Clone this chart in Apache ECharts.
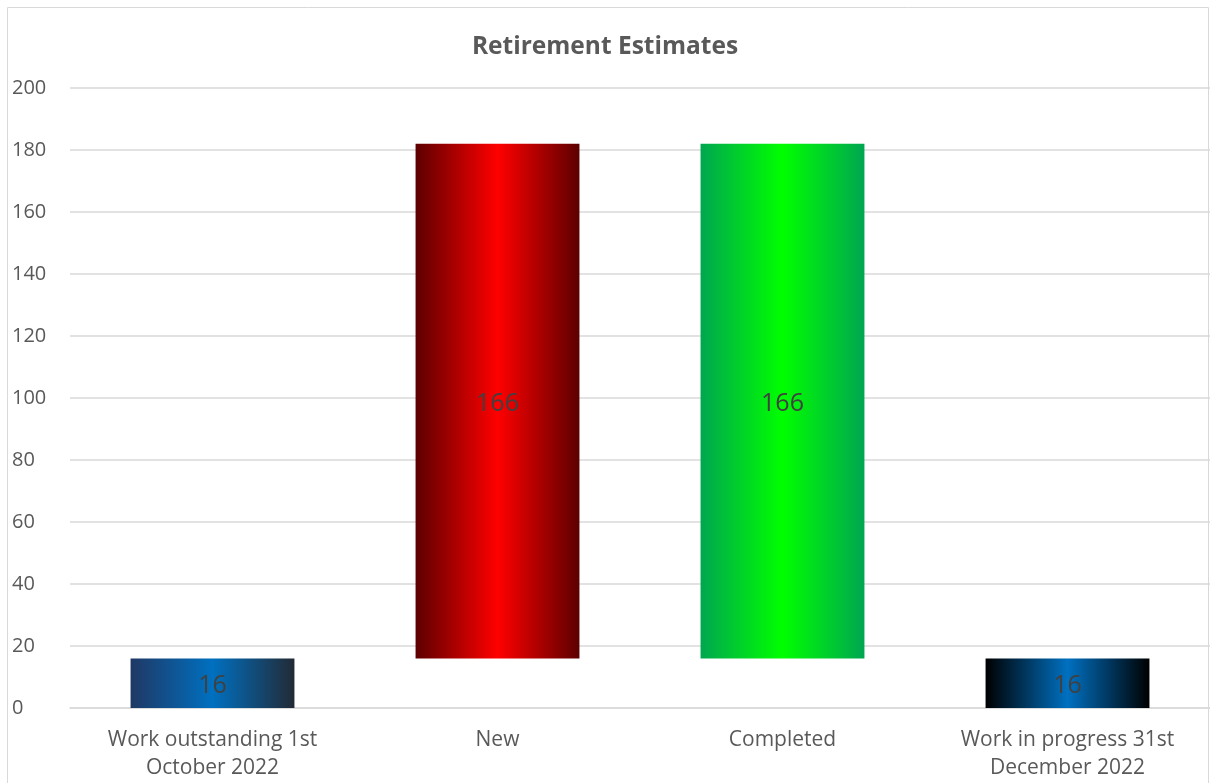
<!DOCTYPE html>
<html><head><meta charset="utf-8">
<script src="https://cdn.jsdelivr.net/npm/echarts@6/dist/echarts.min.js"></script>
<style>html,body{margin:0;padding:0;background:#fff}#c{width:1210px;height:783px}</style>
</head><body><div id="c"></div>
<script>
const categories = ['Work outstanding 1st\nOctober 2022', 'New', 'Completed', 'Work in progress 31st\nDecember 2022'];
const baseValues = [0, 16, 16, 0];
const barValues = [16, 166, 166, 16];
const yTicks = { min: 0, max: 200, interval: 20 };
const gradients = [
  ['#1f3864', '#0070c0', '#222a35'],
  ['#5c0000', '#ff0000', '#5c0000'],
  ['#00a650', '#00ff00', '#00a650'],
  ['#000000', '#0070c0', '#000000']
];
function grad(c) {
  return new echarts.graphic.LinearGradient(0, 0, 1, 0, [
    { offset: 0, color: c[0] }, { offset: 0.5, color: c[1] }, { offset: 1, color: c[2] }
  ]);
}
const font = '"Open Sans", Lato, sans-serif';
const chart = echarts.init(document.getElementById('c'));
chart.setOption({
  animation: false,
  title: { text: 'Retirement Estimates', left: 'center', top: 30,
    textStyle: { fontFamily: font, fontSize: 24.5, fontWeight: 'bold', color: '#595959' } },
  graphic: [{ type: 'rect', shape: { x: 7.5, y: 7.5, width: 1201, height: 800 },
    style: { fill: 'none', stroke: '#d9d9d9', lineWidth: 1 }, silent: true }],
  grid: { left: 70, right: 0, top: 88, bottom: 75, outerBoundsMode: 'none', containLabel: false },
  xAxis: { type: 'category', data: categories,
    axisLine: { show: true, lineStyle: { color: '#d9d9d9', width: 1.5 } },
    axisTick: { show: false },
    axisLabel: { interval: 0, margin: 18, lineHeight: 28, color: '#595959', fontFamily: font, fontSize: 21 } },
  yAxis: { type: 'value', min: yTicks.min, max: yTicks.max, interval: yTicks.interval,
    axisLine: { show: false }, axisTick: { show: false },
    splitLine: { lineStyle: { color: '#d9d9d9', width: 1.5 } },
    axisLabel: { align: 'left', margin: 58, color: '#595959', fontFamily: font, fontSize: 20 } },
  series: [
    { type: 'bar', stack: 'w', data: baseValues, itemStyle: { color: 'transparent' }, barWidth: '57.5%', silent: true },
    { type: 'bar', stack: 'w', barWidth: '57.5%',
      data: barValues.map((v, i) => ({ value: v, itemStyle: { color: grad(gradients[i]) } })),
      label: { show: true, position: 'inside', offset: [0, 3], color: '#404040', fontFamily: font, fontSize: 25 } }
  ]
});
</script></body></html>
